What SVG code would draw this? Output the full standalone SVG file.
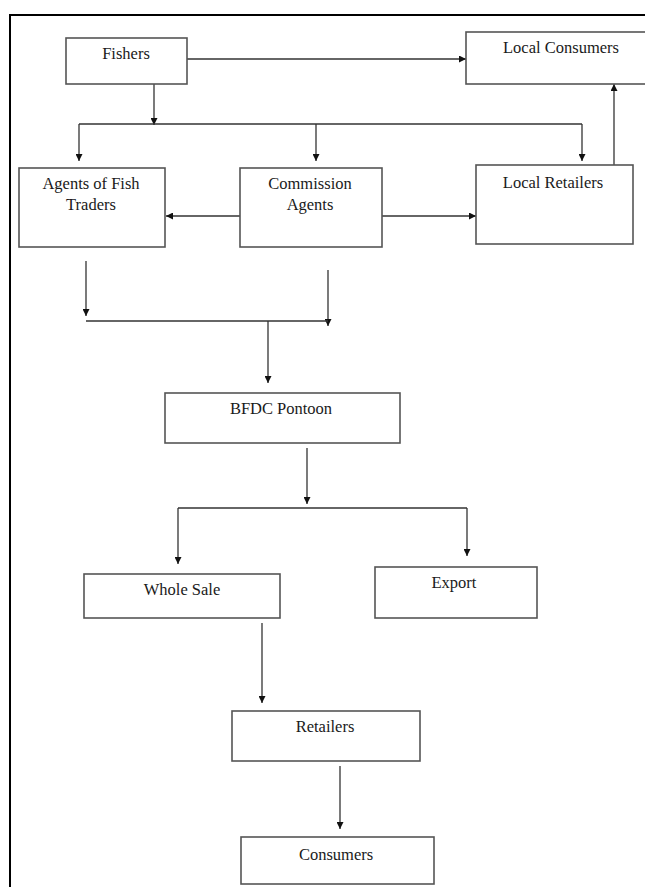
<svg xmlns="http://www.w3.org/2000/svg" width="645" height="887" viewBox="0 0 645 887">
<style>
.box{fill:#fff;stroke:#555;stroke-width:1.6}
.t{font-family:"Liberation Serif","Times New Roman",serif;font-size:16.5px;fill:#1a1a1a;text-anchor:middle}
.c{fill:none;stroke:#333;stroke-width:1.3}
</style>
<defs>
<marker id="ah" viewBox="0 0 10 10" refX="10" refY="5" markerWidth="7.5" markerHeight="7" markerUnits="userSpaceOnUse" orient="auto">
<path d="M0,0 L10,5 L0,10 Z" fill="#111"/>
</marker>
</defs>
<rect width="645" height="887" fill="#fff"/>
<path d="M10,887 V15 H645" fill="none" stroke="#000" stroke-width="2"/>
<g id="connectors">
<path class="c" d="M187,59 H466" marker-end="url(#ah)"/>
<path class="c" d="M154,84 V125" marker-end="url(#ah)"/>
<path class="c" d="M79,124 H582"/>
<path class="c" d="M79,124 V161" marker-end="url(#ah)"/>
<path class="c" d="M316,124 V161" marker-end="url(#ah)"/>
<path class="c" d="M582,124 V161" marker-end="url(#ah)"/>
<path class="c" d="M614,165 V84" marker-end="url(#ah)"/>
<path class="c" d="M240,216 H166" marker-end="url(#ah)"/>
<path class="c" d="M382,216 H476" marker-end="url(#ah)"/>
<path class="c" d="M86,261 V316" marker-end="url(#ah)"/>
<path class="c" d="M328,270 V326" marker-end="url(#ah)"/>
<path class="c" d="M86,321 H328"/>
<path class="c" d="M268,321 V383" marker-end="url(#ah)"/>
<path class="c" d="M307,448 V504" marker-end="url(#ah)"/>
<path class="c" d="M178,508 H467"/>
<path class="c" d="M178,508 V564" marker-end="url(#ah)"/>
<path class="c" d="M467,508 V556" marker-end="url(#ah)"/>
<path class="c" d="M262,623 V703" marker-end="url(#ah)"/>
<path class="c" d="M340,766 V829" marker-end="url(#ah)"/>
</g>
<g id="fishers"><rect class="box" x="66" y="38" width="121" height="46"/><text class="t" x="126" y="59">Fishers</text></g>
<g id="local-consumers"><rect class="box" x="466" y="32" width="185" height="52"/><text class="t" x="561" y="53">Local Consumers</text></g>
<g id="agents-fish-traders"><rect class="box" x="19" y="168" width="146" height="79"/><text class="t" x="91" y="189">Agents of Fish</text><text class="t" x="91" y="210">Traders</text></g>
<g id="commission-agents"><rect class="box" x="240" y="168" width="142" height="79"/><text class="t" x="310" y="189">Commission</text><text class="t" x="310" y="210">Agents</text></g>
<g id="local-retailers"><rect class="box" x="476" y="165" width="157" height="79"/><text class="t" x="553" y="188">Local Retailers</text></g>
<g id="bfdc-pontoon"><rect class="box" x="165" y="393" width="235" height="50"/><text class="t" x="281" y="414">BFDC Pontoon</text></g>
<g id="whole-sale"><rect class="box" x="84" y="574" width="196" height="44"/><text class="t" x="182" y="595">Whole Sale</text></g>
<g id="export"><rect class="box" x="375" y="567" width="162" height="51"/><text class="t" x="454" y="588">Export</text></g>
<g id="retailers"><rect class="box" x="232" y="711" width="188" height="50"/><text class="t" x="325" y="732">Retailers</text></g>
<g id="consumers"><rect class="box" x="241" y="837" width="193" height="47"/><text class="t" x="336" y="860">Consumers</text></g>
</svg>
